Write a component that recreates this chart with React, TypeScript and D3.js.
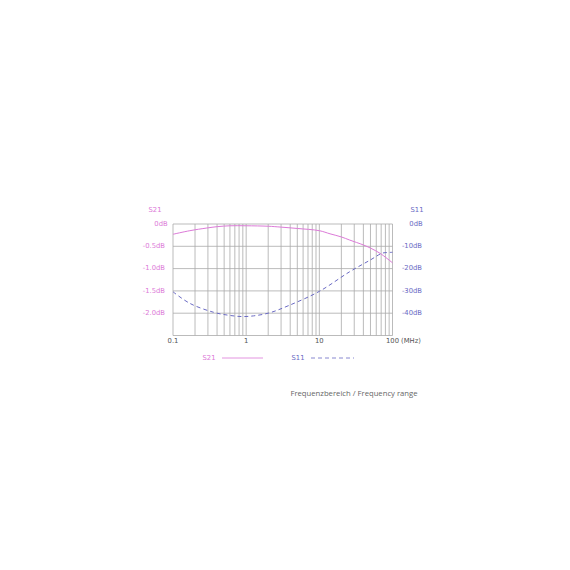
import { useEffect, useRef } from 'react'
import * as d3 from 'd3'

// S21 insertion loss (MHz, dB)
const S21_FREQ = [0.1, 0.17, 0.29, 0.4, 0.6, 1, 2, 3, 5, 10, 14, 20, 26, 40, 50, 68, 100]
const S21_DB = [-0.23, -0.15, -0.09, -0.06, -0.04, -0.04, -0.05, -0.07, -0.1, -0.15, -0.22, -0.29, -0.36, -0.47, -0.54, -0.66, -0.87]

// S11 return loss (MHz, dB)
const S11_FREQ = [0.1, 0.17, 0.36, 0.57, 0.87, 1.26, 2.1, 3.8, 10, 26, 50, 72, 85, 100]
const S11_DB = [-30.4, -35.6, -39.6, -40.9, -41.5, -41.2, -39.8, -36.6, -30.2, -21.4, -16.1, -13.1, -12.8, -12.7]

const LEFT_TICKS = [0, -0.5, -1.0, -1.5, -2.0]
const LEFT_LABELS = ['0dB', '-0.5dB', '-1.0dB', '-1.5dB', '-2.0dB']
const RIGHT_TICKS = [0, -10, -20, -30, -40]
const RIGHT_LABELS = ['0dB', '-10dB', '-20dB', '-30dB', '-40dB']
const X_TICKS = [0.1, 1, 10, 100]
const X_LABELS = ['0.1', '1', '10', '100']

const PINK = '#dc7ad8'
const BLUE = '#6a6ac4'
const GRID = '#aaaaaa'
const FONT = '"DejaVu Sans", sans-serif'

export default function App() {
  const svgRef = useRef<SVGSVGElement>(null)
  const W = 570
  const H = 570
  const M = { left: 173, top: 224, right: 392.5, bottom: 335.5 }

  useEffect(() => {
    if (!svgRef.current) return
    const svg = d3.select(svgRef.current)
    svg.selectAll('*').remove()

    const x = d3.scaleLog().domain([0.1, 100]).range([M.left, M.right])
    const yL = d3.scaleLinear().domain([0, -2.5]).range([M.top, M.bottom])
    const yR = d3.scaleLinear().domain([0, -50]).range([M.top, M.bottom])

    // vertical grid: every 1..9 of each decade
    const vLines: number[] = []
    for (let d = 0.1; d < 100; d *= 10) {
      for (let k = 1; k <= 9; k++) vLines.push(+(d * k).toPrecision(3))
    }
    vLines.push(100)
    svg.append('g').selectAll('line').data(vLines).join('line')
      .attr('x1', d => x(d)).attr('x2', d => x(d))
      .attr('y1', M.top).attr('y2', M.bottom)
      .attr('stroke', GRID).attr('stroke-width', 0.8)

    // horizontal grid
    svg.append('g').selectAll('line').data([0, -0.5, -1, -1.5, -2, -2.5]).join('line')
      .attr('x1', M.left).attr('x2', M.right)
      .attr('y1', d => yL(d)).attr('y2', d => yL(d))
      .attr('stroke', GRID).attr('stroke-width', 0.8)

    // curves
    const lineS21 = d3.line<number>().x((_, i) => x(S21_FREQ[i])).y(d => yL(d)).curve(d3.curveCatmullRom)
    const lineS11 = d3.line<number>().x((_, i) => x(S11_FREQ[i])).y(d => yR(d)).curve(d3.curveCatmullRom)
    svg.append('path').attr('d', lineS21(S21_DB)).attr('fill', 'none')
      .attr('stroke', PINK).attr('stroke-width', 1)
    svg.append('path').attr('d', lineS11(S11_DB)).attr('fill', 'none')
      .attr('stroke', BLUE).attr('stroke-width', 1).attr('stroke-dasharray', '4 3')

    const txt = (tx: number, ty: number, s: string, color: string, anchor = 'middle', size = 6.8) =>
      svg.append('text').attr('x', tx).attr('y', ty).attr('text-anchor', anchor)
        .attr('dominant-baseline', 'middle').attr('fill', color)
        .attr('font-family', FONT).attr('font-size', size).text(s)

    // left axis labels
    txt(155, 210, 'S21', PINK)
    LEFT_TICKS.forEach((t, i) => txt(i === 0 ? 161 : 165, yL(t), LEFT_LABELS[i], PINK, i === 0 ? 'middle' : 'end'))

    // right axis labels
    txt(417, 210, 'S11', BLUE)
    RIGHT_TICKS.forEach((t, i) => txt(i === 0 ? 416 : 422, yR(t), RIGHT_LABELS[i], BLUE, i === 0 ? 'middle' : 'end'))

    // x axis labels
    X_TICKS.forEach((t, i) => txt(x(t), 341.5, X_LABELS[i], '#555'))
    txt(411, 341.5, '(MHz)', '#555')

    // legend
    txt(209, 358, 'S21', PINK)
    svg.append('line').attr('x1', 222).attr('x2', 263).attr('y1', 358).attr('y2', 358)
      .attr('stroke', PINK).attr('stroke-width', 0.8)
    txt(298, 358, 'S11', BLUE)
    svg.append('line').attr('x1', 311).attr('x2', 354).attr('y1', 358).attr('y2', 358)
      .attr('stroke', BLUE).attr('stroke-width', 0.8).attr('stroke-dasharray', '4 3')

    txt(354, 394, 'Frequenzbereich / Frequency range', '#666', 'middle', 7.7)
      .attr('font-family', '"Open Sans", sans-serif')
  }, [])

  return (
    <svg
      ref={svgRef}
      width={W}
      height={H}
      style={{ position: 'absolute', left: 0, top: 0, background: '#fff' }}
    />
  )
}
